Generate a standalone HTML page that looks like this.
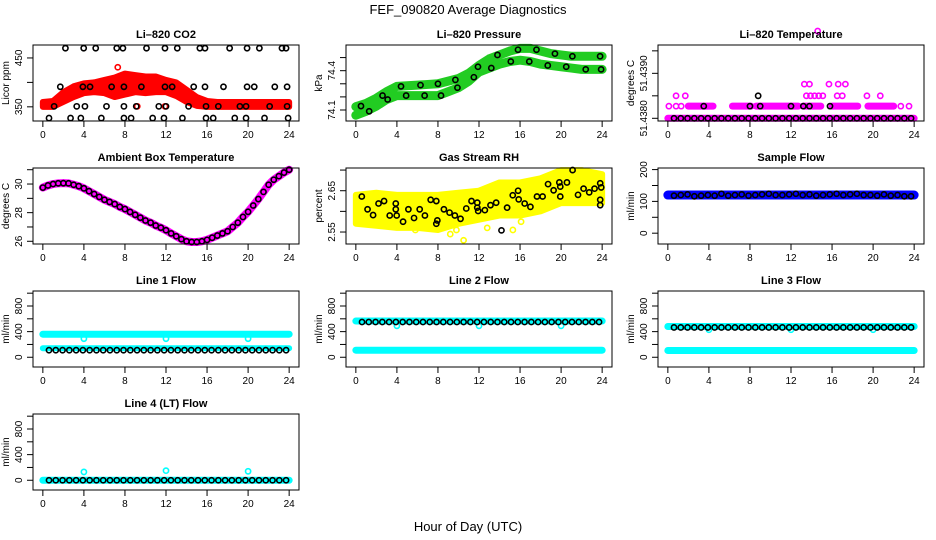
<!DOCTYPE html>
<html><head><meta charset="utf-8">
<style>
html,body{margin:0;padding:0;background:#fff;}
svg{display:block;font-family:"Liberation Sans",Arial,sans-serif;}
</style></head>
<body>
<svg id="chart" width="936" height="540" viewBox="0 0 936 540" xmlns="http://www.w3.org/2000/svg">
<text x="468" y="14" text-anchor="middle" font-size="13">FEF_090820  Average Diagnostics</text>
<text x="468" y="531" text-anchor="middle" font-size="13">Hour of Day (UTC)</text>
</svg>
<script>
// ---------- data ----------
const xTicks = [0,4,8,12,16,20,24];
const hourly = [0,1,2,3,4,5,6,7,8,9,10,11,12,13,14,15,16,17,18,19,20,21,22,23,24];
const blkHours = [0.6,1.26,1.92,2.58,3.24,3.9,4.56,5.22,5.88,6.54,7.2,7.86,8.52,9.18,9.84,10.5,11.16,11.82,12.48,13.14,13.8,14.46,15.12,15.78,16.44,17.1,17.76,18.42,19.08,19.74,20.4,21.06,21.72,22.38,23.04,23.7];

// CO2
const co2Upper = [360,362,380,392,398,400,405,410,418,415,412,412,405,400,385,370,362,360,360,360,360,360,360,360,360];
const co2Lower = [350,350,360,370,378,380,378,370,375,380,378,380,380,372,360,352,350,350,350,350,350,350,350,350,350];
const co2BlkHours = [2.2,3.98,5.15,7.2,7.8,10.1,11.9,13.1,15.3,15.8,18.2,19.9,21.1,23.3,23.7,
 1.7,3.9,4.6,6.7,7.9,9.6,11.9,12.6,14.7,15.8,17.6,19.9,20.6,22.6,23.8,
 1.1,3.3,4.1,6.2,7.9,9.1,11.3,12.0,14.2,15.9,17.1,19.2,19.8,22.1,23.8,
 0.6,2.7,3.7,5.7,7.9,8.6,10.7,11.8,13.6,15.9,16.6,18.7,19.8,21.6,23.9];
const co2BlkVals = [470,470,470,470,470,470,470,470,470,470,470,470,470,470,470,
 391,391,391,391,391,391,391,391,391,391,391,391,391,391,391,
 351,351,351,351,351,351,351,351,351,351,351,351,351,351,351,
 327,327,327,327,327,327,327,327,327,327,327,327,327,327,327];
const co2RedHours = [7.3,9.2,11.9];
const co2RedVals = [431,351,351];

// Pressure
const presUpper = [74.125,74.15,74.19,74.24,74.28,74.285,74.29,74.295,74.30,74.32,74.34,74.38,74.44,74.49,74.52,74.55,74.57,74.57,74.55,74.53,74.52,74.51,74.51,74.51,74.51];
const presLower = [74.06,74.09,74.13,74.18,74.21,74.21,74.21,74.21,74.21,74.24,74.27,74.32,74.39,74.42,74.45,74.47,74.48,74.47,74.45,74.44,74.43,74.42,74.41,74.41,74.41];
const presBlkUpHours = [0.5,2.6,4.4,6.3,8.0,9.7,11.9,13.8,15.8,17.6,19.4,21.1,23.8];
const presBlkUpVals = [74.13,74.21,74.28,74.29,74.30,74.33,74.43,74.52,74.56,74.56,74.53,74.51,74.51];
const presBlkLoHours = [1.3,3.1,4.9,6.7,8.3,9.9,11.5,13.2,15.1,16.9,18.7,20.5,22.4,23.9];
const presBlkLoVals = [74.09,74.18,74.21,74.21,74.21,74.27,74.35,74.42,74.47,74.47,74.44,74.43,74.41,74.41];

// Li-820 temperature
const tempBaseSeg = [0,24];
const tempBaseVal = 51.4380;
const tempL2Segs = [[2,4.4],[6.3,8.1],[8.6,12.7],[13.2,14.9],[16,18.5],[19.5,22]];
const tempL2Val = 51.43827;
const tempL2Pts = [0.1,0.8,1.3,22.7,23.5];
const tempL3Pts = [0.8,1.7,13.5,13.9,14.3,14.7,15.1,16.5,17,19.4,20.7];
const tempL3Val = 51.4385;
const tempL4Pts = [13.3,13.8,15.7,16.6,17.3];
const tempL4Val = 51.43876;
const tempTopPts = [14.6];
const tempTopVal = 51.43994;
const tempBlkL2 = [3.5,8,9,12,13.2,13.8,15.8];

// Ambient
const ambHours = [0,0.5,1,1.5,2,2.5,3,3.5,4,4.5,5,5.5,6,6.5,7,7.5,8,8.5,9,9.5,10,10.5,11,11.5,12,12.5,13,13.5,14,14.5,15,15.5,16,16.5,17,17.5,18,18.5,19,19.5,20,20.5,21,21.5,22,22.5,23,23.5,24];
const ambVals = [29.75,29.9,30.0,30.05,30.06,30.05,29.95,29.85,29.7,29.5,29.3,29.1,28.9,28.75,28.6,28.4,28.25,28.05,27.85,27.65,27.45,27.3,27.1,26.95,26.77,26.55,26.35,26.15,26.0,25.95,25.95,26.0,26.1,26.25,26.4,26.55,26.7,27.0,27.3,27.7,28.06,28.5,28.95,29.45,29.95,30.3,30.55,30.8,31.0];

// Gas stream RH
const rhBandHours = [0,2,4,6,8,10,12,14,16,18,20,22,24];
const rhUpper = [2.64,2.645,2.64,2.64,2.64,2.645,2.65,2.67,2.67,2.68,2.70,2.70,2.69];
const rhLower = [2.57,2.565,2.56,2.56,2.555,2.57,2.58,2.59,2.59,2.60,2.62,2.62,2.62];
const rhYelHours = [0.2,2.2,3.5,5.8,8.5,9.2,9.8,10.5,12.8,15.3,16.1,23.5];
const rhYelVals = [2.585,2.59,2.57,2.555,2.56,2.545,2.555,2.53,2.56,2.555,2.575,2.66];
const rhBlkHours = [0.58,1.14,1.68,2.21,2.75,3.3,3.89,3.89,3.98,4.6,5.12,5.67,6.22,6.73,7.29,7.84,7.84,7.94,8.58,9.13,9.65,10.2,10.76,11.27,11.83,11.83,11.92,12.57,13.12,13.67,14.19,14.74,15.29,15.81,15.87,16.45,17.01,17.65,18.2,18.73,19.27,19.83,19.92,19.92,20.57,21.12,21.65,22.19,22.74,23.26,23.81,23.91,23.81,23.81];
const rhBlkVals = [2.636,2.605,2.591,2.619,2.625,2.59,2.619,2.605,2.59,2.575,2.605,2.584,2.605,2.59,2.628,2.625,2.57,2.578,2.605,2.597,2.59,2.582,2.607,2.625,2.621,2.609,2.601,2.603,2.615,2.621,2.554,2.609,2.639,2.65,2.629,2.619,2.611,2.636,2.636,2.666,2.651,2.67,2.66,2.636,2.67,2.70,2.64,2.655,2.646,2.655,2.668,2.658,2.628,2.615];

// Sample flow
const sampleBand = [120,120,120,120,120,120,120,120,120,120,120,120,120,120,120,120,120,120,120,120,120,120,120,120,120];
const sampleBlk = [118,120,122,116,118,120,118,124,118,120,122,118,120,122,124,120,120,122,124,120,122,118,120,122,124,120,122,124,120,120,118,122,118,120,116,116];

// Line flows
const line1Hi = [360,360,360,360,360,360,360,360,360,360,360,360,360,360,360,360,360,360,360,360,360,360,360,360,360];
const line1Lo = [140,140,140,140,140,140,140,140,140,140,140,140,140,140,140,140,140,140,140,140,140,140,140,140,140];
const line1Blk = [110,110,110,110,110,110,110,110,110,110,110,110,110,110,110,110,110,110,110,110,110,110,110,110,110,110,110,110,110,110,110,110,110,110,110,110];
const line1DipHours = [4,12,20];
const line1DipVals = [290,290,290];

const line2Hi = [565,565,565,565,565,565,565,565,565,565,565,565,565,565,565,565,565,565,565,565,565,565,565,565,565];
const line2Lo = [110,110,110,110,110,110,110,110,110,110,110,110,110,110,110,110,110,110,110,110,110,110,110,110,110];
const line2Blk = [550,550,550,550,550,550,550,550,550,550,550,550,550,550,550,550,550,550,550,550,550,550,550,550,550,550,550,550,550,550,550,550,550,550,550,550];
const line2DipHours = [4,12,20];
const line2DipVals = [490,490,490];

const line3Hi = [480,480,480,480,480,480,480,480,480,480,480,480,480,480,480,480,480,480,480,480,480,480,480,480,480];
const line3Lo = [105,105,105,105,105,105,105,105,105,105,105,105,105,105,105,105,105,105,105,105,105,105,105,105,105];
const line3Blk = [465,465,465,465,465,465,465,465,465,465,465,465,465,465,465,465,465,465,465,465,465,465,465,465,465,465,465,465,465,465,465,465,465,465,465,465];
const line3DipHours = [4,12,20];
const line3DipVals = [430,430,430];

const line4Hi = [0,0,0,0,0,0,0,0,0,0,0,0,0,0,0,0,0,0,0,0,0,0,0,0,0];
const line4Blk = [0,0,0,0,0,0,0,0,0,0,0,0,0,0,0,0,0,0,0,0,0,0,0,0,0,0,0,0,0,0,0,0,0,0,0,0];
const line4SpikeHours = [4,12,20];
const line4SpikeVals = [130,150,140];

// ---------- drawing ----------
const NS = "http://www.w3.org/2000/svg";
const svg = document.getElementById("chart");
const colX = [33,346,658], rowY = [45,168,291,414], W = 266, H = 76;
function mk(tag, parent){ const e = document.createElementNS(NS, tag); parent.appendChild(e); return e; }

function panel(name, title, ylab, col, row, ymin, ymax, yticks, ylabels){
  const g = mk("g", svg);
  
  
  const x0 = colX[col], y0 = rowY[row];
  const xs = h => x0 + (h + 0.96) / 25.92 * W;
  const ys = v => y0 + H - (v - ymin) / (ymax - ymin) * H;
  const marks = mk("g", g);
  
  
  const box = mk("rect", g);
  
  
  box.setAttribute("x", x0); box.setAttribute("y", y0); box.setAttribute("width", W); box.setAttribute("height", H);
  box.setAttribute("fill", "none"); box.setAttribute("stroke", "#000"); box.setAttribute("stroke-width", "1");
  const t = mk("text", g);
  
  
  t.setAttribute("x", x0 + W / 2); t.setAttribute("y", y0 - 7); t.setAttribute("text-anchor", "middle");
  t.setAttribute("font-size", "11"); t.setAttribute("font-weight", "bold"); t.textContent = title;
  const yl = mk("text", g);
  
  
  const ylx = x0 - 24, yly = y0 + H / 2;
  yl.setAttribute("transform", `translate(${ylx},${yly}) rotate(-90)`);
  yl.setAttribute("text-anchor", "middle"); yl.setAttribute("font-size", "10"); yl.textContent = ylab;
  // x axis
  const xa = mk("g", g);
  
  
  xTicks.forEach(v => {
    const l = mk("line", xa);
    l.setAttribute("x1", xs(v)); l.setAttribute("x2", xs(v)); l.setAttribute("y1", y0 + H); l.setAttribute("y2", y0 + H + 6); l.setAttribute("stroke", "#000");
    const tx = mk("text", xa);
    
    
    tx.setAttribute("x", xs(v)); tx.setAttribute("y", y0 + H + 17); tx.setAttribute("text-anchor", "middle"); tx.setAttribute("font-size", "10");
    tx.textContent = v;
  });
  // y axis
  const ya = mk("g", g);
  
  
  yticks.forEach(v => {
    const l = mk("line", ya);
    l.setAttribute("x1", x0 - 6); l.setAttribute("x2", x0); l.setAttribute("y1", ys(v)); l.setAttribute("y2", ys(v)); l.setAttribute("stroke", "#000");
  });
  ylabels.forEach(lb => {
    const tx = mk("text", ya);
    
    
    tx.setAttribute("transform", `translate(${x0 - 11},${ys(parseFloat(lb))}) rotate(-90)`);
    tx.setAttribute("text-anchor", "middle"); tx.setAttribute("font-size", "10");
    tx.textContent = lb;
  });
  return { g: marks, xs, ys };
}

function circles(p, hours, vals, color, nm){
  const gg = mk("g", p.g);
  
  
  hours.forEach((h, i) => {
    const c = mk("circle", gg);
    c.setAttribute("cx", p.xs(h)); c.setAttribute("cy", p.ys(vals[i])); c.setAttribute("r", 2.6);
    c.setAttribute("fill", "none"); c.setAttribute("stroke", color); c.setAttribute("stroke-width", 1.6);
  });
}
function band(p, hours, vals, color, width, nm){
  const pl = mk("polyline", p.g);
  
  
  pl.setAttribute("points", hours.map((h, i) => p.xs(h) + "," + p.ys(vals[i])).join(" "));
  pl.setAttribute("fill", "none"); pl.setAttribute("stroke", color); pl.setAttribute("stroke-width", width);
  pl.setAttribute("stroke-linecap", "round"); pl.setAttribute("stroke-linejoin", "round");
}
function area(p, hours, up, lo, color, nm){
  const pg = mk("polygon", p.g);
  
  
  const pts = hours.map((h, i) => p.xs(h) + "," + p.ys(up[i]))
    .concat(hours.slice().reverse().map((h, j) => p.xs(h) + "," + p.ys(lo[hours.length - 1 - j])));
  pg.setAttribute("points", pts.join(" "));
  pg.setAttribute("fill", color); pg.setAttribute("stroke", color); pg.setAttribute("stroke-width", 6); pg.setAttribute("stroke-linejoin", "round");
}

// CO2
let p = panel("co2", "Li–820 CO2", "Licor ppm", 0, 0, 321, 476.5, [350,400,450], ["350","450"]);
area(p, hourly, co2Upper, co2Lower, "#ff0000", "co2-red-cloud");
circles(p, co2RedHours, co2RedVals, "#ff0000", "co2-red-points");
circles(p, co2BlkHours, co2BlkVals, "#000", "co2-black-points");

// Pressure
p = panel("pressure", "Li–820 Pressure", "kPa", 1, 0, 74.016, 74.596, [74.1,74.2,74.3,74.4,74.5], ["74.1","74.4"]);
band(p, hourly, presUpper, "#22cc22", 9, "pressure-upper-band");
band(p, hourly, presLower, "#22cc22", 9, "pressure-lower-band");
circles(p, presBlkUpHours, presBlkUpVals, "#000", "pressure-upper-points");
circles(p, presBlkLoHours, presBlkLoVals, "#000", "pressure-lower-points");

// Li-820 temperature
p = panel("temperature", "Li–820 Temperature", "degrees C", 2, 0, 51.43794, 51.43963, [51.4380,51.4385,51.4390,51.4395], ["51.4380","51.4390"]);
band(p, tempBaseSeg, [tempBaseVal, tempBaseVal], "#ff00ff", 7, "temp-base-band");
tempL2Segs.forEach(s => band(p, s, [tempL2Val, tempL2Val], "#ff00ff", 7, "temp-level2-band"));
circles(p, tempL2Pts, tempL2Pts.map(() => tempL2Val), "#ff00ff", "temp-level2-points");
circles(p, tempL3Pts, tempL3Pts.map(() => tempL3Val), "#ff00ff", "temp-level3-points");
circles(p, tempL4Pts, tempL4Pts.map(() => tempL4Val), "#ff00ff", "temp-level4-points");
circles(p, tempTopPts, tempTopPts.map(() => tempTopVal), "#ff00ff", "temp-top-point");
circles(p, blkHours, blkHours.map(() => tempBaseVal), "#000", "temp-black-base");
circles(p, tempBlkL2, tempBlkL2.map(() => tempL2Val), "#000", "temp-black-level2");
circles(p, [8.8], [tempL3Val], "#000", "temp-black-level3");

// Ambient
p = panel("ambient", "Ambient Box Temperature", "degrees C", 0, 1, 25.81, 31.12, [26,27,28,29,30,31], ["26","28","30"]);
band(p, ambHours, ambVals, "#ff00ff", 8, "ambient-band");
circles(p, ambHours, ambVals, "#000", "ambient-black-points");

// RH
p = panel("rh", "Gas Stream RH", "percent", 1, 1, 2.521, 2.705, [2.55,2.60,2.65,2.70], ["2.55","2.65"]);
area(p, rhBandHours, rhUpper, rhLower, "#ffff00", "rh-yellow-cloud");
circles(p, rhYelHours, rhYelVals, "#ffff00", "rh-yellow-points");
circles(p, rhBlkHours, rhBlkVals, "#000", "rh-black-points");

// Sample flow
p = panel("sample-flow", "Sample Flow", "ml/min", 2, 1, -34, 205, [0,50,100,150,200], ["0","100","200"]);
band(p, hourly, sampleBand, "#0000ff", 9, "sample-blue-band");
circles(p, blkHours, sampleBlk, "#000", "sample-black-points");

// Line flows
const flowTicks = [0,200,400,600,800,1000], flowLabels = ["0","400","800"];
p = panel("line1", "Line 1 Flow", "ml/min", 0, 2, -152, 1034, flowTicks, flowLabels);
band(p, hourly, line1Hi, "#00ffff", 7, "line1-cyan-high");
band(p, hourly, line1Lo, "#00ffff", 6, "line1-cyan-low");
circles(p, line1DipHours, line1DipVals, "#00ffff", "line1-dips");
circles(p, blkHours, line1Blk, "#000", "line1-black-points");

p = panel("line2", "Line 2 Flow", "ml/min", 1, 2, -152, 1034, flowTicks, flowLabels);
band(p, hourly, line2Hi, "#00ffff", 7, "line2-cyan-high");
band(p, hourly, line2Lo, "#00ffff", 7, "line2-cyan-low");
circles(p, line2DipHours, line2DipVals, "#00ffff", "line2-dips");
circles(p, blkHours, line2Blk, "#000", "line2-black-points");

p = panel("line3", "Line 3 Flow", "ml/min", 2, 2, -152, 1034, flowTicks, flowLabels);
band(p, hourly, line3Hi, "#00ffff", 7, "line3-cyan-high");
band(p, hourly, line3Lo, "#00ffff", 7, "line3-cyan-low");
circles(p, line3DipHours, line3DipVals, "#00ffff", "line3-dips");
circles(p, blkHours, line3Blk, "#000", "line3-black-points");

p = panel("line4", "Line 4 (LT) Flow", "ml/min", 0, 3, -152, 1034, flowTicks, flowLabels);
band(p, hourly, line4Hi, "#00ffff", 7, "line4-cyan-band");
circles(p, line4SpikeHours, line4SpikeVals, "#00ffff", "line4-spikes");
circles(p, blkHours, line4Blk, "#000", "line4-black-points");
</script>
</body></html>
